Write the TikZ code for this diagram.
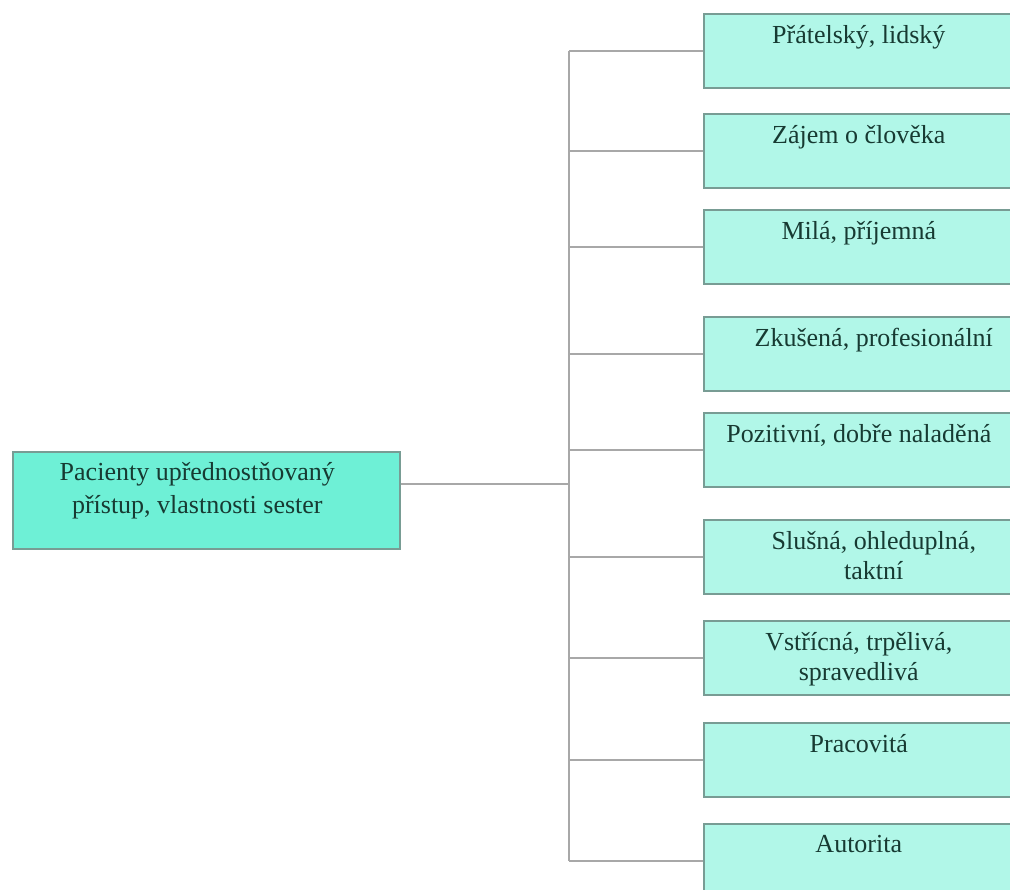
\documentclass[tikz,border=0pt]{standalone}
\usepackage{fontspec}
\setmainfont{Liberation Serif}
\definecolor{leaffill}{HTML}{B1F7E8}
\definecolor{rootfill}{HTML}{6EF0D6}
\definecolor{boxline}{HTML}{789C94}
\definecolor{wirecol}{HTML}{A8A8A8}
\definecolor{txtcol}{HTML}{173A32}

\begin{document}
\begin{tikzpicture}[x=1pt,y=-1pt,
  every node/.style={font=\fontsize{26}{30}\selectfont,text=txtcol},
  box/.style={draw=boxline,line width=1.6pt,fill=leaffill,anchor=north west,
              inner sep=0pt,minimum width=310pt,minimum height=74pt},
  root/.style={box,fill=rootfill,minimum width=387pt,minimum height=97pt},
  txt/.style={anchor=north,inner sep=0pt,yshift=-12pt,align=center},
  wire/.style={draw=wirecol,line width=1.8pt}]
\useasboundingbox (0,0) rectangle (1010,890);
\clip (0,0) rectangle (1010,890);

\node[root,label={[txt,xshift=-9pt,yshift=1pt,font=\fontsize{26}{33}\selectfont]north:Pacienty upřednostňovaný\\přístup, vlastnosti sester}] (root) at (12,451) {};

\node[box,label={[txt]north:Přátelský, lidský}]                 (b1) at (703,13)  {};
\node[box,label={[txt]north:Zájem o člověka}]                   (b2) at (703,113) {};
\node[box,label={[txt]north:Milá, příjemná}]                    (b3) at (703,209) {};
\node[box,label={[txt,xshift=15pt]north:Zkušená, profesionální}] (b4) at (703,316) {};
\node[box,label={[txt]north:Pozitivní, dobře naladěná}]         (b5) at (703,412) {};
\node[box,label={[txt,xshift=15pt]north:Slušná, ohleduplná,\\taktní}] (b6) at (703,519) {};
\node[box,label={[txt]north:Vstřícná, trpělivá,\\spravedlivá}]  (b7) at (703,620) {};
\node[box,label={[txt]north:Pracovitá}]                         (b8) at (703,722) {};
\node[box,label={[txt]north:Autorita}]                          (b9) at (703,823) {};

% fork from the root to the list
\coordinate (fork) at (569,484);
\draw[wire] (root.east |- fork) -- (fork);
\draw[wire] (fork |- b1.west) -- (fork |- b9.west);
\draw[wire] (fork |- b1.west) -- (b1.west)
            (fork |- b2.west) -- (b2.west)
            (fork |- b3.west) -- (b3.west)
            (fork |- b4.west) -- (b4.west)
            (fork |- b5.west) -- (b5.west)
            (fork |- b6.west) -- (b6.west)
            (fork |- b7.west) -- (b7.west)
            (fork |- b8.west) -- (b8.west)
            (fork |- b9.west) -- (b9.west);
\end{tikzpicture}
\end{document}
